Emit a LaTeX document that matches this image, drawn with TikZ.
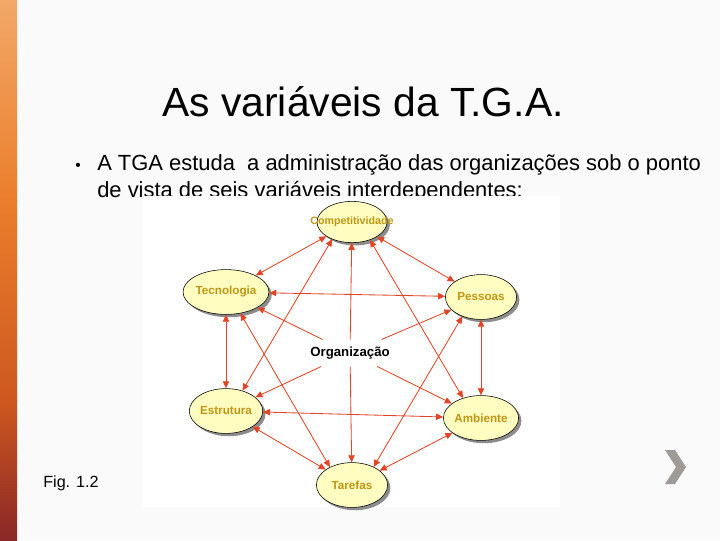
\documentclass[tikz,border=0pt]{standalone}
\usepackage{fontspec}
\setmainfont{Liberation Sans}
\usepackage{xcolor}
\usepackage{tikz}
\usetikzlibrary{shapes.geometric, arrows.meta, shadows}

\definecolor{arrowred}{RGB}{226,68,38}
\definecolor{varfill}{RGB}{255,253,192}
\definecolor{vartext}{RGB}{190,150,20}
\definecolor{chevgray}{RGB}{160,154,150}
\definecolor{barTop}{RGB}{242,168,104}
\definecolor{barMid}{RGB}{234,126,44}
\definecolor{barLow}{RGB}{206,88,32}
\definecolor{barBot}{RGB}{138,40,40}

\begin{document}
\begin{tikzpicture}[x=0.025cm, y=-0.025cm,
    var-node/.style={ellipse, draw=black, thin, fill=varfill, minimum width=1.78cm, minimum height=1.12cm, inner sep=0pt, text=vartext, font=\fontsize{8.3}{9}\selectfont\bfseries, drop shadow={shadow xshift=2pt, shadow yshift=-2pt, fill=black!45, opacity=1}},
    org-node/.style={inner sep=5pt, font=\fontsize{9.4}{10}\selectfont\bfseries},
    slide-text/.style={anchor=base west, inner sep=0pt},
    link/.style={draw=arrowred, line width=0.6pt, {Triangle[length=5pt,width=4.5pt]}-{Triangle[length=5pt,width=4.5pt]}},
    org-link/.style={draw=arrowred, line width=0.6pt, -{Triangle[length=5pt,width=4.5pt]}}
]

    \useasboundingbox (0,0) rectangle (720,540);
    \fill[black!2] (0,0) rectangle (720,540);

    % side bar
    \shade[top color=barTop, bottom color=barMid] (0,0) rectangle (17,200);
    \shade[top color=barMid, bottom color=barLow] (0,200) rectangle (17,400);
    \shade[top color=barLow, bottom color=barBot] (0,400) rectangle (17,540);

    \node[anchor=base, inner sep=0pt, font=\fontsize{29}{34}\selectfont] (title) at (363,116) {As variáveis da T.G.A.};

    \node[anchor=base, inner sep=0pt, font=\fontsize{11}{13}\selectfont] (dot) at (78,170) {•};
    \node[slide-text, font=\fontsize{15.6}{18}\selectfont] (line1) at (97,170) {A TGA estuda\ \ a administração das organizações sob o ponto};
    \node[slide-text, font=\fontsize{15.6}{18}\selectfont] (line2) at (97,197) {de vista de seis variáveis interdependentes:};

    % picture
    \fill[white] (142,196) rectangle (560,507);

    \node[var-node, minimum width=1.75cm, minimum height=1.03cm, font=\fontsize{7.6}{9}\selectfont\bfseries] (comp) at (352,222) {\makebox[0pt]{Competitividade}};
    \node[var-node] (tec) at (226,292) {Tecnologia};
    \node[var-node] (pess) at (481,297) {Pessoas};
    \node[var-node] (estr) at (226,411) {Estrutura};
    \node[var-node] (amb) at (481,418) {Ambiente};
    \node[var-node] (taref) at (352,485) {Tarefas};

    \node[org-node] (org) at (350,353) {Organização};

    \draw[link] (comp) -- (tec);
    \draw[link] (comp) -- (pess);
    \draw[link] (tec) -- (pess);
    \draw[link] (estr) -- (amb);
    \draw[link] (estr) -- (taref);
    \draw[link] (amb) -- (taref);
    \draw[link] (tec) -- (estr);
    \draw[link] (pess) -- (amb);
    \draw[link] (comp.221) -- (estr.51);
    \draw[link] (tec.304) -- (taref.141);
    \draw[link] (comp.315) -- (amb.132);
    \draw[link] (pess.226) -- (taref.40);

    \draw[org-link] (org) -- (comp);
    \draw[org-link] (org) -- (tec);
    \draw[org-link] (org) -- (pess);
    \draw[org-link] (org) -- (estr);
    \draw[org-link] (org) -- (amb);
    \draw[org-link] (org) -- (taref);

    \node[slide-text, font=\fontsize{11.5}{14}\selectfont] (fig) at (43,487) {Fig. 1.2};

    \fill[chevgray] (665,450) -- (675,450) -- (686,467) -- (675,484) -- (665,484) -- (676,467) -- cycle;

\end{tikzpicture}
\end{document}
